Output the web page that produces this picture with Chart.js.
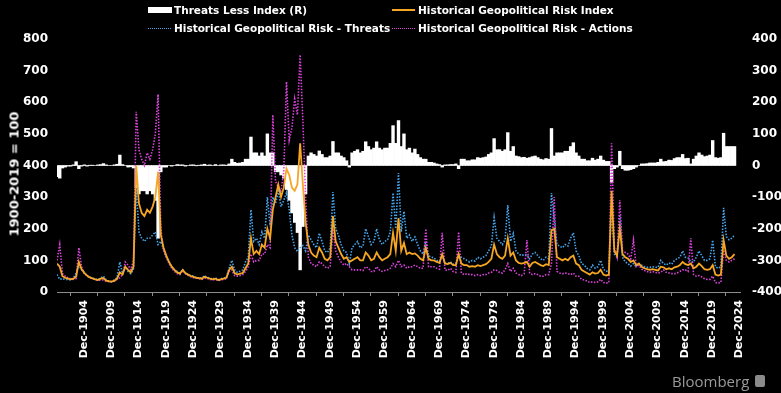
<!DOCTYPE html>
<html>
<head>
<meta charset="utf-8">
<script src="https://cdn.jsdelivr.net/npm/chart.js@4.4.1/dist/chart.umd.min.js"></script>
<style>
  body { margin: 0; background: #000; }
  #wrap { position: relative; width: 781px; height: 393px; background: #000; overflow: hidden; font-family: "DejaVu Sans", sans-serif; }
  #chart { position: absolute; left: 0; top: 0; }
  .leg { position: absolute; color: #fff; font-weight: bold; font-size: 10.5px; line-height: 12px; white-space: nowrap; display: flex; align-items: center; }
  .sw { display: inline-block; width: 23px; margin-right: 3px; }
  #ytitle { position: absolute; left: 14px; top: 174px; transform: translate(-50%, -50%) rotate(-90deg); color: #fff; font-weight: bold; font-size: 13px; white-space: nowrap; }
  #brand { position: absolute; left: 672px; top: 371px; color: #9a9a9a; font-family: "Open Sans", sans-serif; font-size: 15px; line-height: 20px; }
  #brandicon { position: absolute; left: 755px; top: 375px; width: 10px; height: 12px; background: #8a8a8a; border-radius: 2px; }
</style>
</head>
<body>
<div id="wrap">
  <canvas id="chart" width="781" height="393"></canvas>
  <div class="leg" style="left:148px; top:4px;"><span class="sw" style="width:24px;height:6px;background:#fff;margin-right:2px"></span>Threats Less Index (R)</div>
  <div class="leg" style="left:392px; top:4px;"><span class="sw" style="height:2px;background:#f5a623"></span>Historical Geopolitical Risk Index</div>
  <div class="leg" style="left:148px; top:22px;"><span class="sw" style="height:0;border-top:1px dotted #45a6ee;margin-right:3px"></span>Historical Geopolitical Risk - Threats</div>
  <div class="leg" style="left:392px; top:22px;"><span class="sw" style="height:0;border-top:1px dotted #dc42dc"></span>Historical Geopolitical Risk - Actions</div>
  <div id="ytitle">1900-2019 = 100</div>
  <div id="brand">Bloomberg</div>
  <div id="brandicon"></div>
</div>
<script>
// half-yearly readings, Jan 1900 .. Jan 2024
const startYear = 1900;
const step = 0.5;

const tickLabels = ['Dec-1904', 'Dec-1909', 'Dec-1914', 'Dec-1919', 'Dec-1924', 'Dec-1929', 'Dec-1934',
  'Dec-1939', 'Dec-1944', 'Dec-1949', 'Dec-1954', 'Dec-1959', 'Dec-1964', 'Dec-1969', 'Dec-1974',
  'Dec-1979', 'Dec-1984', 'Dec-1989', 'Dec-1994', 'Dec-1999', 'Dec-2004', 'Dec-2009', 'Dec-2014',
  'Dec-2019', 'Dec-2024'];

// Historical Geopolitical Risk Index (left axis)
const gprIndex = [
  90, 80, 50, 45, 42, 40, 42, 48, 95, 72, 60, 52, 46, 43, 40, 38, 42, 44, 36, 34,
  33, 36, 42, 62, 55, 80, 70, 62, 80, 400, 280, 250, 240, 260, 250, 270, 300, 380, 180, 140,
  115, 95, 80, 70, 62, 58, 70, 60, 55, 50, 48, 45, 44, 42, 48, 45, 42, 40, 42, 38,
  40, 42, 45, 70, 80, 60, 55, 58, 60, 75, 90, 170, 120, 130, 120, 150, 140, 200, 170, 260,
  300, 340, 300, 330, 390, 370, 330, 320, 340, 470, 340, 220, 150, 125, 115, 110, 140, 125, 105, 100,
  110, 240, 160, 140, 120, 105, 110, 95, 100, 105, 110, 100, 100, 125, 115, 100, 105, 125, 110, 100,
  105, 110, 120, 187, 130, 234, 130, 155, 120, 125, 120, 122, 115, 105, 100, 140, 105, 100, 100, 95,
  92, 120, 90, 88, 92, 85, 85, 120, 90, 85, 85, 80, 82, 80, 85, 82, 85, 88, 95, 105,
  150, 120, 110, 105, 115, 170, 115, 125, 100, 92, 90, 92, 95, 80, 92, 95, 90, 85, 82, 88,
  85, 196, 200, 110, 105, 100, 105, 100, 110, 115, 90, 85, 70, 65, 60, 55, 62, 58, 60, 70,
  55, 52, 55, 320, 130, 115, 200, 120, 110, 105, 95, 100, 85, 90, 80, 75, 72, 70, 72, 70,
  68, 80, 78, 72, 75, 72, 78, 80, 85, 95, 88, 85, 90, 75, 80, 90, 82, 72, 70, 72,
  85, 55, 52, 55, 164, 115, 105, 110, 120
];

// Historical Geopolitical Risk - Threats (left axis)
const gprThreats = [
  55, 40, 42, 40, 40, 38, 44, 60, 85, 70, 62, 50, 47, 44, 40, 40, 45, 50, 38, 34,
  33, 38, 46, 95, 58, 80, 65, 58, 72, 330, 190, 170, 160, 170, 170, 180, 190, 150, 160, 135,
  110, 95, 78, 70, 65, 60, 72, 58, 55, 52, 50, 44, 45, 44, 52, 46, 44, 40, 45, 38,
  42, 44, 46, 75, 100, 70, 62, 66, 70, 95, 110, 260, 160, 170, 150, 190, 170, 300, 210, 300,
  280, 320, 270, 290, 314, 260, 180, 140, 128, 140, 147, 130, 180, 165, 150, 140, 186, 160, 130, 125,
  140, 316, 200, 180, 150, 130, 125, 90, 140, 150, 160, 140, 145, 200, 175, 150, 160, 200, 165, 150,
  160, 165, 190, 313, 200, 376, 190, 255, 170, 180, 160, 174, 150, 130, 120, 160, 115, 110, 108, 100,
  95, 115, 92, 90, 95, 88, 90, 110, 110, 105, 100, 95, 100, 98, 110, 105, 110, 115, 130, 145,
  235, 170, 160, 150, 165, 275, 160, 185, 130, 120, 115, 118, 118, 105, 120, 125, 115, 105, 100, 110,
  105, 313, 230, 150, 145, 140, 150, 145, 170, 187, 130, 115, 90, 85, 75, 70, 85, 75, 80, 100,
  72, 65, 68, 265, 120, 110, 245, 110, 95, 90, 82, 90, 80, 90, 85, 80, 78, 78, 80, 78,
  78, 100, 90, 85, 92, 88, 100, 105, 110, 130, 110, 108, 95, 95, 110, 130, 115, 100, 100, 105,
  164, 80, 75, 80, 266, 175, 165, 170, 180
];

// Historical Geopolitical Risk - Actions (left axis)
const gprActions = [
  100, 150, 58, 50, 45, 42, 40, 42, 140, 80, 58, 52, 45, 42, 40, 36, 38, 38, 34, 33,
  32, 34, 40, 45, 55, 95, 85, 70, 100, 570, 450, 420, 400, 440, 420, 450, 500, 625, 200, 130,
  110, 90, 75, 65, 58, 55, 68, 58, 52, 48, 45, 44, 42, 40, 44, 43, 40, 38, 40, 36,
  38, 40, 42, 65, 70, 52, 50, 52, 55, 65, 80, 120, 95, 100, 100, 120, 120, 150, 140, 560,
  350, 330, 320, 380, 665, 480, 520, 610, 560, 750, 540, 300, 110, 90, 85, 80, 95, 90, 80, 75,
  80, 200, 130, 110, 95, 85, 90, 80, 70, 70, 70, 70, 68, 80, 75, 65, 65, 80, 70, 65,
  68, 70, 75, 90, 80, 100, 80, 85, 75, 80, 80, 85, 80, 75, 75, 200, 80, 80, 80, 75,
  72, 187, 70, 68, 75, 65, 62, 190, 60, 55, 58, 55, 55, 52, 55, 52, 55, 55, 60, 62,
  70, 68, 62, 60, 70, 90, 65, 75, 60, 55, 52, 58, 164, 60, 55, 58, 55, 50, 50, 55,
  55, 90, 300, 65, 60, 58, 60, 58, 55, 60, 50, 50, 40, 38, 35, 30, 32, 30, 32, 40,
  30, 28, 30, 470, 140, 110, 290, 130, 125, 120, 105, 164, 80, 85, 72, 68, 65, 62, 65, 62,
  60, 62, 70, 62, 60, 58, 58, 60, 65, 70, 70, 65, 170, 55, 50, 52, 48, 42, 40, 40,
  50, 30, 28, 30, 133, 100, 95, 100, 105
];

// Threats Less Index (right axis)
const threatsLessIndex = [
  -35, -40, -8, -5, -2, -2, 2, 12, -10, -2, 2, -2, 1, 1, 0, 2, 3, 6, 2, 0,
  0, 2, 4, 33, 3, 0, -5, -4, -8, -70, -90, -80, -80, -90, -80, -90, -110, -230, -20, -5,
  -5, 0, -2, 0, 3, 2, 2, -2, 0, 2, 2, -1, 1, 2, 4, 1, 2, 0, 3, 0,
  2, 2, 1, 5, 20, 10, 7, 8, 10, 20, 20, 90, 40, 40, 30, 40, 30, 100, 40, 40,
  -20, -20, -30, -40, -76, -110, -150, -180, -212, -330, -193, -90, 30, 40, 35, 30, 46, 35, 25, 25,
  30, 76, 40, 40, 30, 25, 15, -5, 40, 45, 50, 40, 45, 75, 60, 50, 55, 75, 55, 50,
  55, 55, 70, 126, 70, 142, 60, 100, 50, 55, 40, 52, 35, 25, 20, 20, 10, 10, 8, 5,
  3, -5, 2, 2, 3, 3, 5, -10, 20, 20, 15, 15, 18, 18, 25, 23, 25, 27, 35, 40,
  85, 50, 50, 45, 50, 104, 45, 60, 30, 28, 25, 26, 23, 25, 28, 30, 25, 20, 18, 22,
  20, 117, 30, 40, 40, 40, 45, 45, 60, 72, 40, 30, 20, 20, 15, 15, 23, 17, 20, 30,
  17, 13, 13, -55, -10, -5, 45, -10, -15, -15, -13, -10, -5, 0, 5, 5, 6, 8, 8, 8,
  10, 20, 12, 13, 17, 16, 22, 25, 25, 35, 22, 23, 5, 20, 30, 40, 33, 28, 30, 33,
  79, 25, 23, 25, 102, 60, 60, 60, 60
];

const toPoints = vals => vals.map((v, i) => ({ x: startYear + i * step, y: v }));

Chart.defaults.font.family = '"DejaVu Sans", sans-serif';
Chart.defaults.color = '#ffffff';

const ctx = document.getElementById('chart').getContext('2d');
const gprChart = new Chart(ctx, {
    type: 'bar',
    data: {
        datasets: [{
            type: 'bar',
            label: 'Threats Less Index (R)',
            data: toPoints(threatsLessIndex),
            yAxisID: 'yR',
            backgroundColor: '#ffffff',
            borderWidth: 0,
            barPercentage: 1,
            categoryPercentage: 1,
            order: 4
        }, {
            type: 'line',
            label: 'Historical Geopolitical Risk Index',
            data: toPoints(gprIndex),
            yAxisID: 'y',
            borderColor: '#f5a623',
            borderWidth: 1.8,
            pointRadius: 0,
            tension: 0,
            order: 1
        }, {
            type: 'line',
            label: 'Historical Geopolitical Risk - Threats',
            data: toPoints(gprThreats),
            yAxisID: 'y',
            borderColor: '#45a6ee',
            borderWidth: 1.6,
            borderDash: [1.5, 1.5],
            pointRadius: 0,
            tension: 0,
            order: 3
        }, {
            type: 'line',
            label: 'Historical Geopolitical Risk - Actions',
            data: toPoints(gprActions),
            yAxisID: 'y',
            borderColor: '#dc42dc',
            borderWidth: 1.6,
            borderDash: [1.5, 1.5],
            pointRadius: 0,
            tension: 0,
            order: 2
        }]
    },
    options: {
        responsive: false,
        animation: false,
        devicePixelRatio: 1,
        layout: { padding: { top: 39, left: 0, right: 0, bottom: 0 } },
        plugins: {
            legend: { display: false },
            tooltip: { enabled: false }
        },
        scales: {
            x: {
                type: 'linear',
                min: 1900,
                max: 2025,
                offset: false,
                afterFit: s => { s.height = 101; },
                afterBuildTicks: s => {
                    s.ticks = tickLabels.map(l => ({ value: parseInt(l.slice(4), 10) + 11 / 12 }));
                },
                grid: { display: true, drawOnChartArea: false, drawTicks: true, tickLength: 4, color: '#8c8c8c' },
                border: { display: true, color: '#8c8c8c' },
                ticks: {
                    autoSkip: false,
                    minRotation: 90,
                    maxRotation: 90,
                    padding: 4,
                    color: '#ffffff',
                    font: { size: 11, weight: 'bold' },
                    callback: (value, index) => tickLabels[index]
                }
            },
            y: {
                position: 'left',
                min: 0,
                max: 800,
                afterFit: s => { s.width = 57; },
                grid: { display: false, drawTicks: false },
                border: { display: false },
                ticks: { stepSize: 100, padding: 9, color: '#ffffff', font: { size: 12, weight: 'bold' } }
            },
            yR: {
                position: 'right',
                min: -400,
                max: 400,
                afterFit: s => { s.width = 41; },
                grid: { display: false, drawTicks: false },
                border: { display: false },
                ticks: { stepSize: 100, padding: 12, color: '#ffffff', font: { size: 12, weight: 'bold' } }
            }
        }
    }
});
</script>
</body>
</html>
